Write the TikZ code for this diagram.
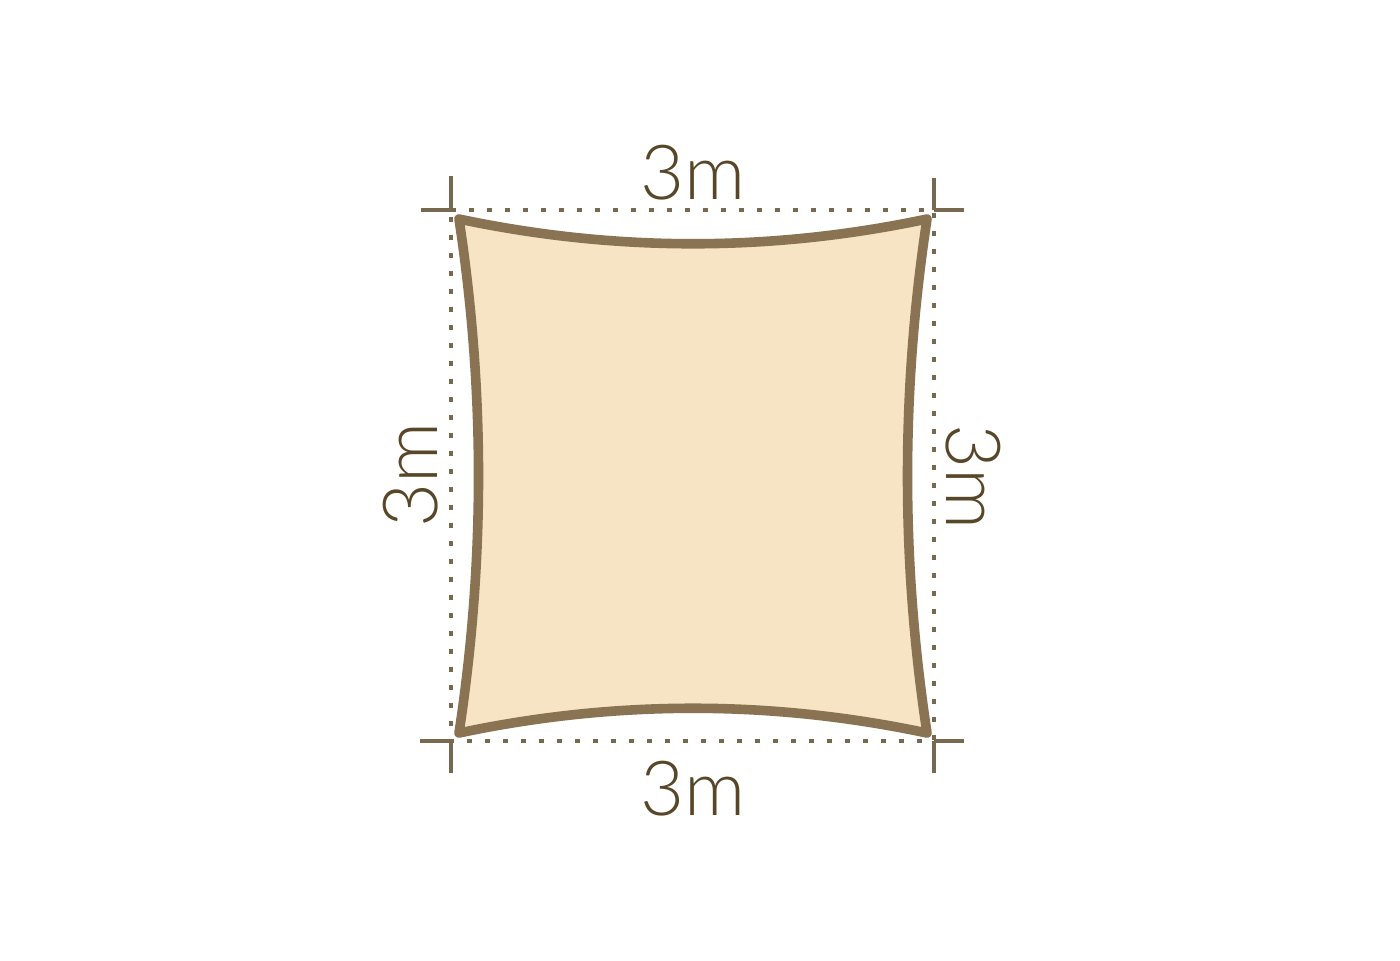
\documentclass[tikz,border=0pt]{standalone}
\usepackage{fontspec}
\setmainfont{Lato}[UprightFont=* Light]
\definecolor{sailfill}{HTML}{F6E4C5}
\definecolor{sailedge}{HTML}{8A7352}
\definecolor{dimline}{HTML}{776850}
\definecolor{dimtext}{HTML}{584628}
\tikzset{
  dim/.style={draw=dimline, line width=1.6pt, dash pattern=on 2.5pt off 6.5pt},
  tick/.style={draw=dimline, line width=1.6pt},
  len/.style={text=dimtext, font=\fontsize{38}{40}\selectfont, inner sep=0pt}
}
\begin{document}
\begin{tikzpicture}[x=0.5pt, y=-0.5pt]
\useasboundingbox (0,0) rectangle (1400,960);
\fill[white] (0,0) rectangle (1400,960);

\coordinate (tl) at (451,210);
\coordinate (tr) at (934,210);
\coordinate (bl) at (451,741);
\coordinate (br) at (934,741);

\coordinate (a) at (459,219);
\coordinate (b) at (927,219);
\coordinate (c) at (927,733);
\coordinate (d) at (459,733);

\path[dim] (tl) -- (tr) -- (br) -- (bl) -- cycle;

\path[tick] (tl) -- ++(0,-34);
\path[tick] (tl) -- ++(-30,0);
\path[tick] (tr) -- ++(0,-32);
\path[tick] (tr) -- ++(30,0);
\path[tick] (bl) -- ++(0,32);
\path[tick] (bl) -- ++(-31,0);
\path[tick] (br) -- ++(0,32);
\path[tick] (br) -- ++(30,0);

\path[draw=sailedge, fill=sailfill, line width=4.8pt, line join=round]
  (a) .. controls (615,252) and (771,252) .. (b)
      .. controls (901,390) and (901,562) .. (c)
      .. controls (771,700) and (615,700) .. (d)
      .. controls (485,562) and (485,390) .. cycle;

\node[len] (top) at (693,173) {3m};
\node[len] (bottom) at (693,789) {3m};
\node[len, rotate=90] (left) at (411,475) {3m};
\node[len, rotate=-90] (right) at (973,477) {3m};
\end{tikzpicture}
\end{document}
